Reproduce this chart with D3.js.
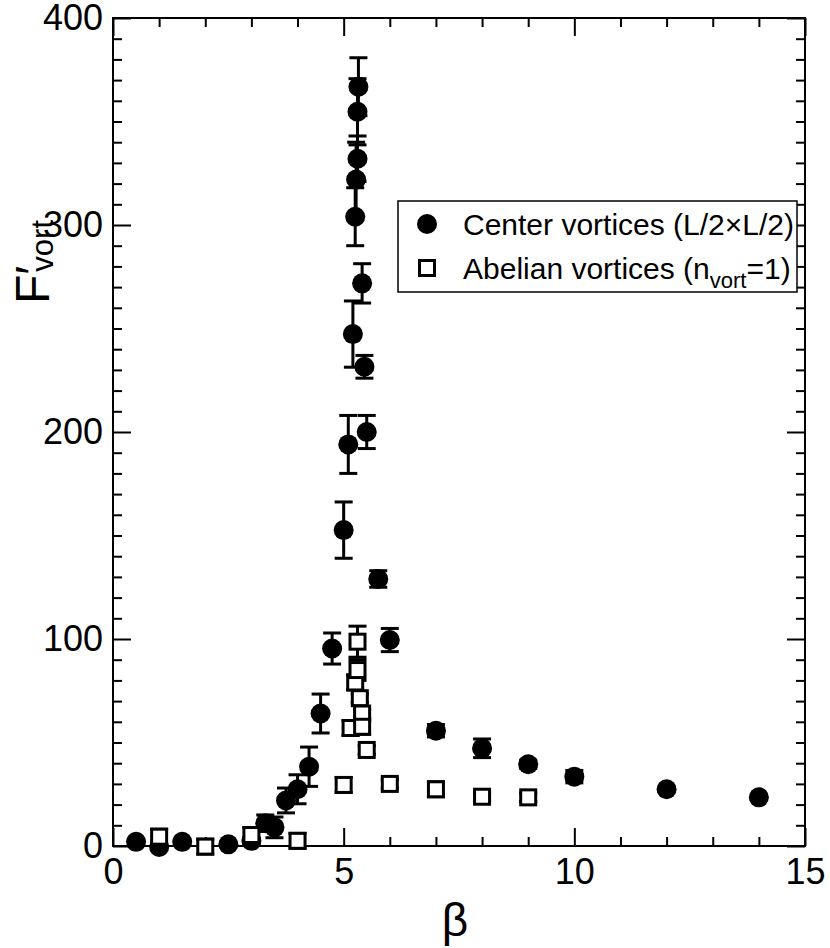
<!DOCTYPE html>
<html>
<head>
<meta charset="utf-8">
<script src="https://cdn.jsdelivr.net/npm/d3@7/dist/d3.min.js"></script>
<style>
  html, body { margin: 0; padding: 0; background: #fff; }
  svg { display: block; }
  text { font-family: "Liberation Sans", Arial, Helvetica, sans-serif; fill: #000; }
</style>
</head>
<body>
<svg id="chart" width="830" height="948"></svg>
<script>
// ---- Data ----
const centerBeta = [0.5, 1.0, 1.5, 2.5, 3.0, 3.3, 3.5, 3.75, 4.0, 4.25, 4.5, 4.75, 5.0, 5.1, 5.2, 5.25, 5.27, 5.3, 5.3, 5.32, 5.4, 5.45, 5.5, 5.75, 6.0, 7, 8, 9, 10, 12, 14];
const centerF    = [2, -0.5, 2, 0.8, 2.5, 11, 9, 22, 27.4, 38.3, 64, 95.4, 152.6, 194, 247.3, 304, 322, 332, 354.7, 366.8, 271.8, 231.5, 200, 129, 99.5, 55.7, 47.2, 39.5, 33.5, 27.4, 23.5];
const centerErr  = [1, 1, 1, 1, 1.5, 4, 5, 6, 7, 9.5, 9.4, 7.5, 13.6, 14, 16, 14, 18, 11, 16, 14, 9.5, 5.5, 8, 4, 5.6, 3, 4.5, 2, 3, 1, 1];

const abelBeta = [1.0, 2.0, 3.0, 4.0, 5.0, 5.15, 5.25, 5.3, 5.3, 5.35, 5.4, 5.4, 5.5, 6.0, 7.0, 8.0, 9.0];
const abelF    = [4.5, -0.3, 5.3, 2.5, 29.5, 57, 79, 85, 98.7, 71.4, 64, 57.6, 46.4, 30, 27.4, 23.8, 23.5];
const abelErr  = [3.6, 3.6, 3.6, 3.6, 3.6, 3.6, 3.6, 5, 7.5, 2, 2, 3.6, 2, 2, 3.6, 2, 2];

const xMajorTicks = [0, 5, 10, 15];
const yMajorTicks = [0, 100, 200, 300, 400];
const xDomain = [0, 15];
const yDomain = [0, 400];

const legendLabels = ["Center vortices (L/2\u00D7L/2)", "Abelian vortices (n"];

// ---- Layout ----
const svg = d3.select("#chart");
const pL = 113, pR = 805, pT = 18, pB = 846;
const x = d3.scaleLinear().domain(xDomain).range([pL, pR]);
const y = d3.scaleLinear().domain(yDomain).range([pB, pT]);

const xMinor = d3.range(xDomain[0], xDomain[1] + 0.001, 1).filter(v => !xMajorTicks.includes(v));
const yMinor = d3.range(yDomain[0], yDomain[1] + 0.001, 10).filter(v => !yMajorTicks.includes(v));

function styleAxis(g) {
  g.select(".domain").remove();
  g.selectAll(".tick line").attr("stroke", "#000").attr("stroke-width", 2);
  g.selectAll(".tick text").style("font-size", "36px").attr("fill", "#000");
}

// bottom
svg.append("g").attr("transform", `translate(0,${pB})`)
  .call(d3.axisBottom(x).tickValues(xMajorTicks).tickSize(-18).tickPadding(12).tickFormat(d3.format("d")))
  .call(styleAxis);
svg.append("g").attr("transform", `translate(0,${pB})`)
  .call(d3.axisBottom(x).tickValues(xMinor).tickSize(-9).tickFormat(""))
  .call(styleAxis);
// top
svg.append("g").attr("transform", `translate(0,${pT})`)
  .call(d3.axisTop(x).tickValues(xMajorTicks).tickSize(-18).tickFormat(""))
  .call(styleAxis);
svg.append("g").attr("transform", `translate(0,${pT})`)
  .call(d3.axisTop(x).tickValues(xMinor).tickSize(-9).tickFormat(""))
  .call(styleAxis);
// left
svg.append("g").attr("transform", `translate(${pL},0)`)
  .call(d3.axisLeft(y).tickValues(yMajorTicks).tickSize(-18).tickPadding(10).tickFormat(d3.format("d")))
  .call(styleAxis);
svg.append("g").attr("transform", `translate(${pL},0)`)
  .call(d3.axisLeft(y).tickValues(yMinor).tickSize(-9).tickFormat(""))
  .call(styleAxis);
// right
svg.append("g").attr("transform", `translate(${pR},0)`)
  .call(d3.axisRight(y).tickValues(yMajorTicks).tickSize(-18).tickFormat(""))
  .call(styleAxis);
svg.append("g").attr("transform", `translate(${pR},0)`)
  .call(d3.axisRight(y).tickValues(yMinor).tickSize(-9).tickFormat(""))
  .call(styleAxis);

// frame
svg.append("rect").attr("x", pL).attr("y", pT).attr("width", pR - pL).attr("height", pB - pT)
  .attr("fill", "none").attr("stroke", "#000").attr("stroke-width", 2);

// ---- Data marks ----
const center = centerBeta.map((b, i) => ({ b, f: centerF[i], e: centerErr[i] }));
const abel = abelBeta.map((b, i) => ({ b, f: abelF[i], e: abelErr[i] }));
const capHalf = 9;

function errorBars(g, data) {
  const eb = g.selectAll("g.eb").data(data).join("g").attr("class", "eb")
    .attr("stroke", "#000").attr("stroke-width", 3).attr("fill", "none");
  eb.append("line").attr("x1", d => x(d.b)).attr("x2", d => x(d.b))
    .attr("y1", d => y(d.f - d.e)).attr("y2", d => y(d.f + d.e));
  eb.append("line").attr("x1", d => x(d.b) - capHalf).attr("x2", d => x(d.b) + capHalf)
    .attr("y1", d => y(d.f + d.e)).attr("y2", d => y(d.f + d.e));
  eb.append("line").attr("x1", d => x(d.b) - capHalf).attr("x2", d => x(d.b) + capHalf)
    .attr("y1", d => y(d.f - d.e)).attr("y2", d => y(d.f - d.e));
}

const gC = svg.append("g");
errorBars(gC, center);
gC.selectAll("circle").data(center).join("circle")
  .attr("cx", d => x(d.b)).attr("cy", d => y(d.f)).attr("r", 10).attr("fill", "#000");

const gA = svg.append("g");
const sq = 15;
errorBars(gA.append("g"), abel);
gA.selectAll("rect.sq").data(abel).join("rect").attr("class", "sq")
  .attr("x", d => x(d.b) - sq / 2).attr("y", d => y(d.f) - sq / 2)
  .attr("width", sq).attr("height", sq)
  .attr("fill", "#fff").attr("stroke", "#000").attr("stroke-width", 3);

// ---- Legend ----
const lg = svg.append("g");
lg.append("rect").attr("x", 398).attr("y", 201).attr("width", 399).attr("height", 91)
  .attr("fill", "#fff").attr("stroke", "#000").attr("stroke-width", 1.5);
lg.append("circle").attr("cx", 427).attr("cy", 224).attr("r", 10).attr("fill", "#000");
lg.append("rect").attr("x", 427 - 7.5).attr("y", 268 - 7.5).attr("width", 15).attr("height", 15)
  .attr("fill", "#fff").attr("stroke", "#000").attr("stroke-width", 3);
lg.append("text").attr("x", 463).attr("y", 235).style("font-size", "30px").text(legendLabels[0]);
const t2 = lg.append("text").attr("x", 463).attr("y", 279).style("font-size", "30px");
t2.append("tspan").text(legendLabels[1]);
t2.append("tspan").attr("dy", 9).style("font-size", "22px").text("vort");
t2.append("tspan").attr("dy", -9).text("=1)");

// ---- Axis titles ----
svg.append("text").attr("x", (pL + pR) / 2 - 4).attr("y", 936)
  .attr("text-anchor", "middle").style("font-size", "46px").text("\u03B2");

const yl = svg.append("text").attr("transform", "translate(49,304) rotate(-90)")
  .attr("text-anchor", "start").style("font-size", "48px");
yl.append("tspan").text("F\u2032");
yl.append("tspan").attr("dy", 4).attr("dx", -6).style("font-size", "31px").text("vort");
</script>
</body>
</html>
